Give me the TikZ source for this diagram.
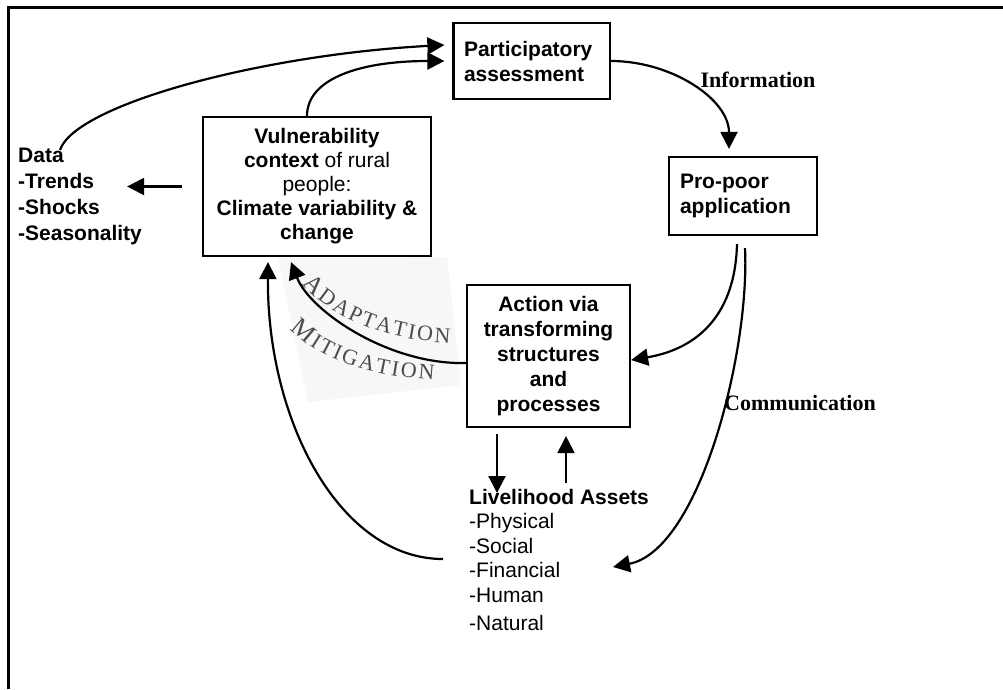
\documentclass[tikz,border=0pt]{standalone}
\usepackage{fontspec}
\setmainfont{Liberation Sans}
\newfontfamily\labelserif{Liberation Serif}
\usepackage{tikz}
\usetikzlibrary{arrows.meta, positioning, calc, decorations.text}
\tikzstyle{arrow} = [line width=2.2pt, -{Triangle[length=17pt,width=17pt]}]
\tikzset{every node/.style={align=center, inner sep=0pt}}
\newcommand{\arcbig}{\labelserif\fontsize{26}{26}\selectfont}
\newcommand{\arcsmall}{\labelserif\fontsize{22}{22}\selectfont}

\begin{document}
\begin{tikzpicture}[x=1pt, y=-1pt,
    box/.style={draw, line width=2.2pt, font=\fontsize{21}{25}\selectfont\bfseries},
    txt/.style={anchor=north west, align=left},
    flow/.style={font=\fontsize{22}{22}\selectfont\labelserif\bfseries}
]
  \useasboundingbox (0,0) rectangle (1003,689);
  % --- frame ---
  \draw[line width=2.8pt] (8.5,689) -- (8.5,7.5) -- (1003,7.5);

  % --- pasted patch behind the curved labels ---
  \fill[black!3] (278,258) -- (447,257) -- (461,385) -- (308,402) -- cycle;

  % --- boxes ---
  \node[box, minimum width=156.5pt, minimum height=76pt, text width=135.5pt, align=left]
       (part) at (531.75,61) {Participatory\\assessment};
  \node[box, minimum width=148pt, minimum height=78pt, text width=126pt, align=left]
       (ppa) at (743,196) {Pro-poor\\application};
  \node[box, minimum width=228pt, minimum height=139pt, font=\fontsize{21}{24}\selectfont]
       (vuln) at (317,186.5) {\textbf{Vulnerability}\\\textbf{context} of rural\\people:\\
       \textbf{Climate variability \&}\\\textbf{change}};
  \node[box, minimum width=163pt, minimum height=142pt]
       (action) at (548.5,356) {Action via\\transforming\\structures\\and\\processes};

  % --- free texts ---
  \node[txt, font=\fontsize{21}{26}\selectfont\bfseries] (data) at (18,148)
       {Data\\-Trends\\-Shocks\\-Seasonality};
  \node[txt, font=\fontsize{21}{24.5}\selectfont] (assets) at (469,489)
       {\textbf{Livelihood Assets}\\-Physical\\-Social\\-Financial\\-Human\\[3.5pt]-Natural};
  \node[flow] (info) at (758,80) {Information};
  \node[flow] (comm) at (800,402.5) {Communication};

  % --- curved labels ---
  \path[decorate, decoration={text along path, text align=fit to path, text color=black!70,
        text={|\arcbig|A|\arcsmall|DAPTATION}}]
       (302,284) .. controls (335,320) and (385,340) .. (450,343);
  \path[decorate, decoration={text along path, text align=fit to path, text color=black!70,
        text={|\arcbig|M|\arcsmall|ITIGATION}}]
       (290,329) .. controls (320,360) and (370,376) .. (434,380);

  % --- connectors ---
  \draw[arrow] ($(data.north west)+(42,2)$) .. controls +(15,-45) and +(-185,10) .. ($(part.west)+(-8,-16)$);
  \draw[arrow] ($(vuln.north)+(-10,0)$) .. controls +(0,-37) and +(-85,0) .. ($(part.west)+(-8,0)$);
  \draw[arrow] (part.east) .. controls +(60,0) and +(0,-50) .. ($(ppa.north)+(-14,-7)$);
  \draw[arrow] ($(vuln.west)+(-20,0)$) -- ($(data.east |- vuln.west)+(-15,0)$);
  \draw[arrow] ($(ppa.south)+(-6,8)$) .. controls +(-2,77) and +(60,-10) .. ($(action.east)+(0,4)$);
  \draw[arrow] ($(ppa.south)+(2,12)$) .. controls +(5,103) and +(87,-17) .. ($(assets.north west)+(144,78)$);
  \draw[arrow] ($(action.west)+(0,7)$) .. controls +(-77,2) and +(19,49) .. ($(vuln.south)+(-26,5)$);
  \draw[arrow] ($(assets.north west)+(-26,70)$) .. controls +(-103,0) and +(-1,159) .. ($(vuln.south)+(-49,5)$);
  \draw[arrow] ($(action.south)+(-51.5,6)$) -- ($(assets.north west)+(28,4)$);
  \draw[arrow] ($(assets.north west)+(97,-6)$) -- ($(action.south)+(17.5,8)$);
\end{tikzpicture}
\end{document}
